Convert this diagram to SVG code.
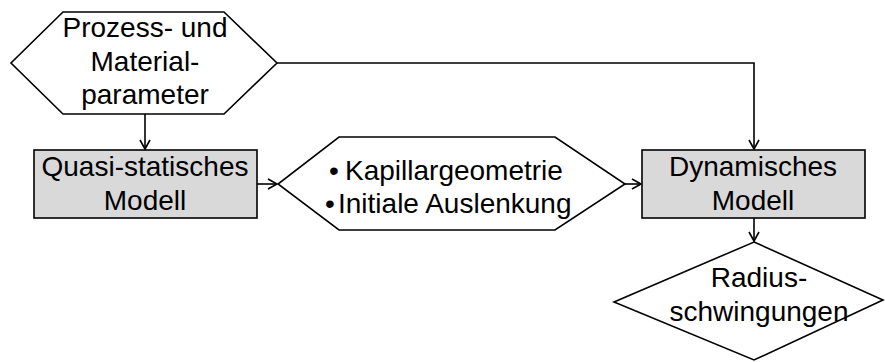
<svg xmlns="http://www.w3.org/2000/svg" width="885" height="362" viewBox="0 0 885 362">
<style>
.shape{stroke:#000;stroke-width:1.6;stroke-linejoin:miter}
.white{fill:#fff}
.grey{fill:#d9d9d9}
.t{font-family:"Liberation Sans",Arial,sans-serif;font-size:28px;fill:#000;text-anchor:middle}
.tl{font-family:"Liberation Sans",Arial,sans-serif;font-size:28px;fill:#000}
.c{fill:none;stroke:#000;stroke-width:1.6}
</style>
<defs>
<marker id="arr" markerWidth="12" markerHeight="12" refX="10" refY="6" orient="auto" markerUnits="userSpaceOnUse">
<path d="M1,1 L10,6 L1,11" fill="none" stroke="#000" stroke-width="1.6"/>
</marker>
</defs>
<rect width="885" height="362" fill="#fff"/>
<g id="connectors">
<path class="c" d="M145,114 V149" marker-end="url(#arr)"/>
<path class="c" d="M277,63 H754 V149" marker-end="url(#arr)"/>
<path class="c" d="M257,184 H277" marker-end="url(#arr)"/>
<path class="c" d="M625,184 H641" marker-end="url(#arr)"/>
<path class="c" d="M754,218 V241" marker-end="url(#arr)"/>
</g>
<g id="param">
<polygon class="shape white" points="63,12 224,12 277,63 224,114 63,114 11,63"/>
<text class="t" x="145" y="37">Prozess- und</text>
<text class="t" x="145" y="71">Material-</text>
<text class="t" x="145" y="104">parameter</text>
</g>
<g id="quasi">
<rect class="shape grey" x="34" y="150" width="223" height="68"/>
<text class="t" x="145" y="176">Quasi-statisches</text>
<text class="t" x="145" y="210">Modell</text>
</g>
<g id="geom">
<polygon class="shape white" points="339,137 555,137 625,184 555,230 339,230 278,184"/>
<text class="tl" x="329" y="180">•</text>
<text class="tl" x="345" y="180">Kapillargeometrie</text>
<text class="tl" x="325" y="213">•</text>
<text class="tl" x="338" y="213">Initiale Auslenkung</text>
</g>
<g id="dyn">
<rect class="shape grey" x="642" y="150" width="223" height="68"/>
<text class="t" x="753" y="176">Dynamisches</text>
<text class="t" x="753" y="210">Modell</text>
</g>
<g id="radius">
<polygon class="shape white" points="754,242 883,300 754,360 614,302"/>
<text class="t" x="759" y="287">Radius-</text>
<text class="t" x="759" y="321">schwingungen</text>
</g>
</svg>
